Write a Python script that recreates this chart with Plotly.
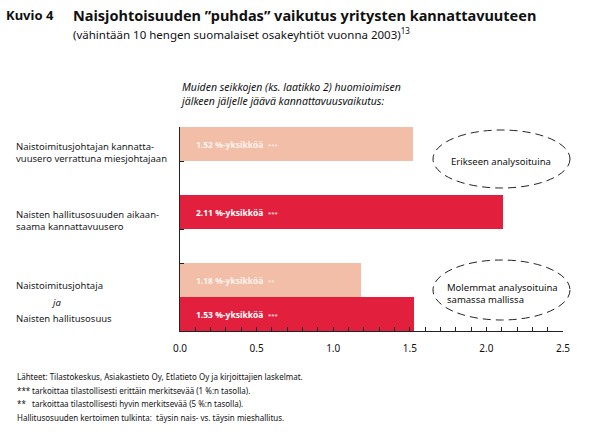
import plotly.graph_objects as go

# ---- data ----
bar_labels = ["1.52 %-yksikköä", "2.11 %-yksikköä", "1.18 %-yksikköä", "1.53 %-yksikköä"]
values = [1.52, 2.11, 1.18, 1.53]
significance = ["***", "***", "**", "***"]
kinds = ["ceo", "board", "ceo", "board"]
slot_index = [0, 2, 4, 5]  # slots from top; 1 and 3 are gaps
x_ticks = [0.0, 0.5, 1.0, 1.5, 2.0, 2.5]

colors = {"ceo": "#F2BEA8", "board": "#E2203E"}
FONT = "Noto Sans"
W, H = 603, 437
L, R, T, B = 180, 40, 127, 106
pw, ph = W - L - R, H - T - B

def px(x):
    return (x - L) / pw

def py(y):
    return (H - B - y) / ph

ypos = [5.5 - i for i in slot_index]

fig = go.Figure()
fig.add_trace(go.Bar(
    x=values, y=ypos, orientation="h", width=1.0,
    marker=dict(color=[colors[k] for k in kinds], line=dict(width=0)),
    hoverinfo="skip", showlegend=False,
))

ann = []
for v, yp, lab, s, k in zip(values, ypos, bar_labels, significance, kinds):
    ann.append(dict(x=0, y=yp, xref="x", yref="y",
                    text=f"<b>{lab}</b>  <span style='font-size:6px'>{s}</span>",
                    showarrow=False, xanchor="left", xshift=14,
                    font=dict(family=FONT, size=8.5,
                              color="rgba(255,255,255,0.85)" if k == "ceo" else "white")))

left = [
    ("Naistoimitusjohtajan kannatta-<br>vuusero verrattuna miesjohtajaan", 152, "left", 14),
    ("Naisten hallitusosuuden aikaan-<br>saama kannattavuusero", 220, "left", 14),
    ("Naistoimitusjohtaja", 285, "left", 14),
    ("<i>ja</i>", 302, "center", 56),
    ("Naisten hallitusosuus", 318, "left", 14),
]
for txt, yy, anc, xx in left:
    ann.append(dict(x=px(xx), y=py(yy), xref="paper", yref="paper", text=txt,
                    showarrow=False, xanchor=anc, yanchor="middle", align="left",
                    font=dict(family=FONT, size=9.5, color="#1a1a1a")))

ann += [
    dict(x=px(4), y=py(15), xref="paper", yref="paper", text="<b>Kuvio 4</b>",
         showarrow=False, xanchor="left", yanchor="middle",
         font=dict(family=FONT, size=13, color="#111")),
    dict(x=px(71), y=py(15), xref="paper", yref="paper",
         text="<b>Naisjohtoisuuden ”puhdas” vaikutus yritysten kannattavuuteen</b>",
         showarrow=False, xanchor="left", yanchor="middle",
         font=dict(family=FONT, size=14.5, color="#111")),
    dict(x=px(71), y=py(33), xref="paper", yref="paper",
         text="(vähintään 10 hengen suomalaiset osakeyhtiöt vuonna 2003)<sup>13</sup>",
         showarrow=False, xanchor="left", yanchor="middle",
         font=dict(family=FONT, size=11.5, color="#111")),
    dict(x=px(178), y=py(94), xref="paper", yref="paper",
         text="<i>Muiden seikkojen (ks. laatikko 2) huomioimisen<br>jälkeen jäljelle jäävä kannattavuusvaikutus:</i>",
         showarrow=False, xanchor="left", yanchor="middle", align="left",
         font=dict(family=FONT, size=10.5, color="#111")),
    dict(x=px(501), y=py(161), xref="paper", yref="paper", text="Erikseen analysoituina",
         showarrow=False, xanchor="center", yanchor="middle",
         font=dict(family=FONT, size=9.5, color="#111")),
    dict(x=px(445), y=py(293), xref="paper", yref="paper",
         text="Molemmat analysoituina<br>samassa mallissa",
         showarrow=False, xanchor="left", yanchor="middle", align="left",
         font=dict(family=FONT, size=9.5, color="#111")),
]

foot = [
    ("", "Lähteet: Tilastokeskus, Asiakastieto Oy, Etlatieto Oy ja kirjoittajien laskelmat.", 376),
    ("***", "tarkoittaa tilastollisesti erittäin merkitsevää (1 %:n tasolla).", 390),
    ("**", "tarkoittaa tilastollisesti hyvin merkitsevää (5 %:n tasolla).", 403),
    ("", "Hallitusosuuden kertoimen tulkinta:  täysin nais- vs. täysin mieshallitus.", 417),
]
for mark, txt, yy in foot:
    if mark:
        ann.append(dict(x=px(15), y=py(yy), xref="paper", yref="paper", text=mark,
                        showarrow=False, xanchor="left", yanchor="middle",
                        font=dict(family=FONT, size=8, color="#111")))
        ann.append(dict(x=px(30), y=py(yy), xref="paper", yref="paper", text=txt,
                        showarrow=False, xanchor="left", yanchor="middle",
                        font=dict(family=FONT, size=8, color="#111")))
    else:
        ann.append(dict(x=px(15), y=py(yy), xref="paper", yref="paper", text=txt,
                        showarrow=False, xanchor="left", yanchor="middle",
                        font=dict(family=FONT, size=8, color="#111")))

shapes = [
    dict(type="circle", xref="paper", yref="paper",
         x0=px(433), x1=px(570), y0=py(188), y1=py(130),
         line=dict(color="#222", width=1, dash="8px,5px")),
    dict(type="circle", xref="paper", yref="paper",
         x0=px(433), x1=px(570), y0=py(320), y1=py(260),
         line=dict(color="#222", width=1, dash="8px,5px")),
]

fig.update_layout(
    width=W, height=H, margin=dict(l=L, r=R, t=T, b=B),
    paper_bgcolor="white", plot_bgcolor="white",
    annotations=ann, shapes=shapes, bargap=0,
    xaxis=dict(range=[0, 2.5], tickvals=x_ticks,
               ticktext=[f"{t:.1f}" for t in x_ticks],
               showgrid=False, zeroline=False, showline=True, linecolor="#222",
               linewidth=1, ticks="inside", ticklen=4, tickcolor="#222",
               ticklabelstandoff=8,
               minor=dict(dtick=0.1, ticks="inside", ticklen=4, tickcolor="#222"),
               tickfont=dict(family=FONT, size=10, color="#111"), fixedrange=True),
    yaxis=dict(range=[0, 6], tickvals=[2, 3, 5], showticklabels=False,
               showgrid=False, zeroline=False, showline=True, linecolor="#222",
               linewidth=1, ticks="inside", ticklen=4, tickcolor="#222", fixedrange=True),
)

fig.write_html("out.html")
